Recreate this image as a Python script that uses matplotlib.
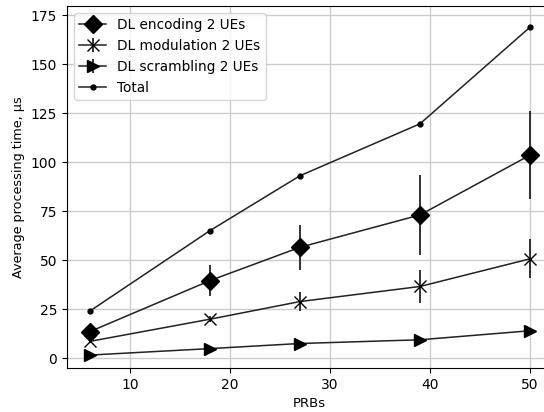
import matplotlib
matplotlib.use("Agg")
import matplotlib.pyplot as plt

prbs = [6, 18, 27, 39, 50]

encoding = [13.5, 39.5, 56.5, 73.0, 103.5]
encoding_err = [1.0, 8.0, 11.5, 20.5, 22.5]

modulation = [8.5, 19.8, 28.8, 36.5, 50.6]
modulation_err = [0.5, 1.5, 5.0, 8.5, 10.0]

scrambling = [1.5, 4.8, 7.4, 9.3, 13.9]
scrambling_err = [0.2, 0.3, 0.4, 0.8, 0.9]

total = [24.0, 65.0, 93.0, 119.5, 168.8]

fig = plt.figure(figsize=(5.44, 4.12), dpi=100)
ax = fig.add_axes([67 / 544, 44 / 412, 485 / 544, 362 / 412])

line_color = "#222222"
h_enc = ax.errorbar(prbs, encoding, yerr=encoding_err, marker="D", markersize=9,
                    color=line_color, mfc="black", mec="black", ecolor="#222222",
                    elinewidth=1.3, linewidth=1.1, label="DL encoding 2 UEs")
h_mod = ax.errorbar(prbs, modulation, yerr=modulation_err, marker="x", markersize=9,
                    color=line_color, mfc="black", mec="black", ecolor="#222222",
                    elinewidth=1.3, linewidth=1.1, mew=1.0, label="DL modulation 2 UEs")
h_scr = ax.errorbar(prbs, scrambling, yerr=scrambling_err, marker=">", markersize=9,
                    color=line_color, mfc="black", mec="black", ecolor="#222222",
                    elinewidth=1.3, linewidth=1.1, label="DL scrambling 2 UEs")
h_tot, = ax.plot(prbs, total, marker=".", markersize=7, color=line_color,
                 mfc="black", mec="black", linewidth=1.1, label="Total")

ax.set_xlim(3.7, 52.2)
ax.set_ylim(-5.1, 179.6)
ax.set_xticks([10, 20, 30, 40, 50])
ax.set_yticks([0, 25, 50, 75, 100, 125, 150, 175])
ax.grid(True, color="#cccccc", linewidth=1.0)
ax.set_axisbelow(True)

ax.set_xlabel("PRBs", fontsize=9.5)
ax.set_ylabel("Average processing time, µs", fontsize=9.2)
ax.legend(handles=[h_enc, h_mod, h_scr, h_tot], loc="upper left", fontsize=9.8)

fig.savefig("out.png", dpi=100)
